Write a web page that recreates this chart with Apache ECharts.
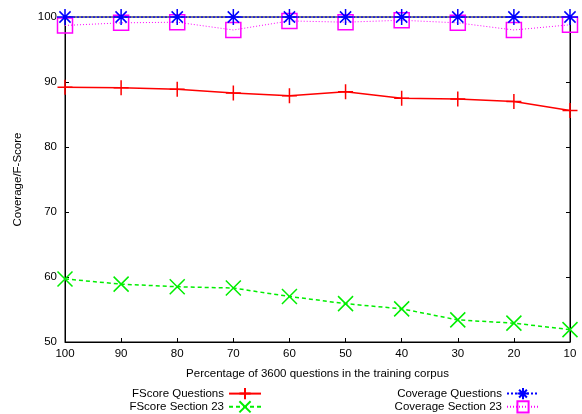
<!DOCTYPE html>
<html>
<head>
<meta charset="utf-8">
<script src="https://cdn.jsdelivr.net/npm/echarts@6/dist/echarts.min.js"></script>
<style>
  html, body { margin: 0; padding: 0; background: #fff; }
  #chart { width: 582px; height: 414px; }
</style>
</head>
<body>
<div id="chart"></div>
<script>
// x 轴：训练语料百分比（从 100 递减到 10）
var percents = ['100', '90', '80', '70', '60', '50', '40', '30', '20', '10']
var fscoreQuestions = [89.2, 89.1, 88.9, 88.3, 87.9, 88.5, 87.5, 87.4, 87.0, 85.6]
var fscoreSection23 = [59.7, 58.9, 58.5, 58.3, 57.0, 55.9, 55.1, 53.4, 52.9, 51.9]
var coverageQuestions = [100, 100, 100, 100, 100, 100, 100, 100, 100, 100]
var coverageSection23 = [98.7, 99.1, 99.2, 98.0, 99.4, 99.2, 99.5, 99.1, 98.0, 98.8]

var FONT = 'Liberation Sans'

// 自定义符号（只有描边）
var PLUS = 'path://M0,-1L0,1M-1,0L1,0'
var CROSS = 'path://M-1,-1L1,1M-1,1L1,-1'
var STAR = 'path://M0,-1L0,1M-1,0L1,0M-0.7,-0.7L0.7,0.7M-0.7,0.7L0.7,-0.7'
var BOX = 'path://M-1,-1L1,-1L1,1L-1,1Z'

function makeSeries(name, data, color, symbol, size, type, width) {
  return {
    name: name,
    type: 'line',
    data: data,
    symbol: symbol,
    symbolSize: size,
    showAllSymbol: true,
    animation: false,
    lineStyle: { color: color, width: width, type: type },
    itemStyle: { color: 'rgba(0,0,0,0)', borderColor: color, borderWidth: 1.5 }
  }
}

function makeLegend(names, right) {
  return {
    data: names,
    orient: 'vertical',
    align: 'right',
    right: right,
    top: 387,
    padding: 0,
    itemWidth: 32,
    itemHeight: 14,
    itemGap: 0,
    textStyle: { fontFamily: FONT, fontSize: 11.5, color: '#000' }
  }
}

var chart = echarts.init(document.getElementById('chart'))

chart.setOption({
  backgroundColor: '#fff',
  textStyle: { fontFamily: FONT },
  grid: {
    left: 65, right: 12, top: 17, bottom: 72,
    show: true, borderColor: '#000', borderWidth: 1
  },
  legend: [
    makeLegend(['FScore Questions', 'FScore Section 23'], 320),
    makeLegend(['Coverage Questions', 'Coverage Section 23'], 42)
  ],
  xAxis: {
    type: 'category',
    data: percents,
    boundaryGap: false,
    name: 'Percentage of 3600 questions in the training corpus',
    nameLocation: 'middle',
    nameGap: 26,
    nameTextStyle: { fontFamily: FONT, fontSize: 11.5, color: '#000' },
    axisLine: { lineStyle: { color: '#000', width: 1 } },
    axisTick: { inside: true, length: 4, lineStyle: { color: '#000' } },
    axisLabel: { color: '#000', fontSize: 11.5, margin: 6, fontFamily: FONT },
    splitLine: { show: false }
  },
  yAxis: [{
    type: 'value',
    min: 50,
    max: 100,
    interval: 10,
    name: 'Coverage/F-Score',
    nameLocation: 'middle',
    nameGap: 41,
    nameTextStyle: { fontFamily: FONT, fontSize: 11.5, color: '#000' },
    axisLine: { show: true, lineStyle: { color: '#000', width: 1 } },
    axisTick: { show: true, inside: true, length: 4, lineStyle: { color: '#000' } },
    axisLabel: { color: '#000', fontSize: 11.5, margin: 8, fontFamily: FONT },
    splitLine: { show: false }
  }, {
    type: 'value',
    min: 50,
    max: 100,
    interval: 10,
    position: 'right',
    axisLine: { show: true, lineStyle: { color: '#000', width: 1 } },
    axisTick: { show: true, inside: true, length: 4, lineStyle: { color: '#000' } },
    axisLabel: { show: false },
    splitLine: { show: false }
  }],
  series: [
    makeSeries('FScore Questions', fscoreQuestions, '#ff0000', PLUS, 15, 'solid', 1.5),
    makeSeries('FScore Section 23', fscoreSection23, '#00ee00', CROSS, 15, [4, 3], 1.5),
    makeSeries('Coverage Section 23', coverageSection23, '#ff00ff', BOX, 15, [1, 2], 1),
    makeSeries('Coverage Questions', coverageQuestions, '#0000ff', STAR, 16, [2, 2], 1.5)
  ]
})
</script>
</body>
</html>
